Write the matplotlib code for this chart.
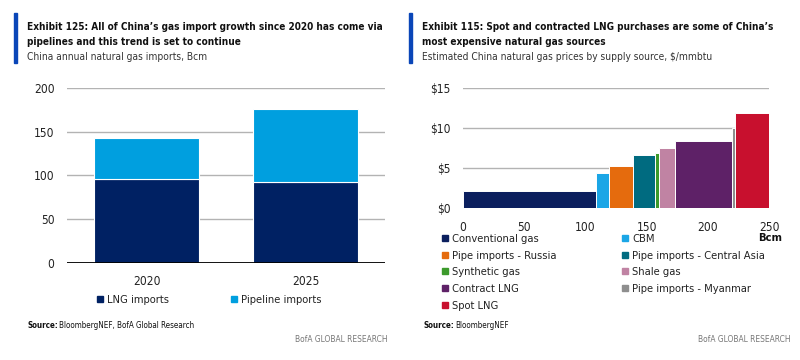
import numpy as np
import matplotlib.pyplot as plt
from matplotlib.patches import Rectangle
from matplotlib.lines import Line2D

plt.rcParams['font.family'] = ['DejaVu Sans']
plt.rcParams['font.stretch'] = 'condensed'

## Left chart data: China annual gas imports, Bcm
years = ['2020', '2025']
lng_imports = [95.5, 92]
pipeline_imports = [47, 84.5]

## Right chart data: supply curve, volume (Bcm) and price ($/mmbtu)
sources = ['Conventional gas', 'CBM', 'Pipe imports - Russia',
           'Pipe imports - Central Asia', 'Synthetic gas', 'Shale gas',
           'Contract LNG', 'Pipe imports - Myanmar', 'Spot LNG']
volumes = [109, 10, 20, 17.5, 3.5, 13.5, 46.5, 2.5, 27.5]
prices = [2.2, 4.4, 5.3, 6.7, 6.9, 7.6, 8.4, 10.0, 11.9]
colors = ['#0b1f5e', '#1ba6e6', '#e56b0d', '#006b80', '#3c9a2c',
          '#c083a3', '#5e2167', '#8e8e8e', '#c8102e']

navy = '#002163'
sky = '#009fdf'
accent = '#0a46b8'
grid_c = '#b3b3b3'
txt = '#222222'

W, H = 800, 360
fig = plt.figure(figsize=(8, 3.6), dpi=100)

def fx(x):
    return x / W

def fy(y):
    return 1 - y / H

## headers
def header(x0, lines, sub):
    fig.patches.append(Rectangle((fx(x0 - 13), fy(63)), fx(3), 50 / H,
                                 transform=fig.transFigure, color=accent))
    fig.text(fx(x0), fy(30), lines[0], fontsize=7.2, fontweight='bold',
             color='#111111', va='baseline')
    fig.text(fx(x0), fy(45), lines[1], fontsize=7.2, fontweight='bold',
             color='#111111', va='baseline')
    fig.text(fx(x0), fy(60), sub, fontsize=7.3, color='#333333', va='baseline')

header(27, ["Exhibit 125: All of China\u2019s gas import growth since 2020 has come via",
            "pipelines and this trend is set to continue"],
       "China annual natural gas imports, Bcm")
header(422, ["Exhibit 115: Spot and contracted LNG purchases are some of China\u2019s",
             "most expensive natural gas sources"],
       "Estimated China natural gas prices by supply source, $/mmbtu")

## left chart
ax1 = fig.add_axes([fx(67), fy(262.7), fx(385 - 67), (262.7 - 88.3) / H])
x = np.arange(len(years))
ax1.bar(x, lng_imports, width=0.66, color=navy, edgecolor='white',
        linewidth=0.8, zorder=3, label='LNG imports')
ax1.bar(x, pipeline_imports, bottom=lng_imports, width=0.66, color=sky,
        edgecolor='white', linewidth=0.8, zorder=3, label='Pipeline imports')
ax1.set_xlim(-0.5, 1.5)
ax1.set_ylim(0, 200)
ax1.set_yticks([0, 50, 100, 150, 200])
ax1.set_xticks(x)
ax1.set_xticklabels(years)
ax1.yaxis.grid(True, color=grid_c, linewidth=1)
ax1.axhline(0, color='black', linewidth=1.3, zorder=4)
for s in ax1.spines.values():
    s.set_visible(False)
ax1.tick_params(length=0, labelsize=8.6, colors=txt)
ax1.tick_params(axis='x', pad=9)
ax1.tick_params(axis='y', pad=9)

h1 = [Line2D([], [], marker='s', linestyle='', color=c, markersize=5)
      for c in [navy, sky]]
fig.legend(h1, ['LNG imports', 'Pipeline imports'], ncol=2, frameon=False,
           loc='upper left', bbox_to_anchor=(fx(96), fy(295)), borderpad=0,
           borderaxespad=0, fontsize=8, handlelength=0.7, handletextpad=0.3,
           columnspacing=5.5, labelcolor=txt)

## right chart
ax2 = fig.add_axes([fx(463), fy(208.3), fx(769 - 463), (208.3 - 88.3) / H])
lefts = np.concatenate([[0], np.cumsum(volumes)[:-1]])
for l, w, p, c, n in zip(lefts, volumes, prices, colors, sources):
    ax2.bar(l, p, width=w, align='edge', color=c, edgecolor='white',
            linewidth=0.7, zorder=3, label=n)
ax2.set_xlim(0, 250)
ax2.set_ylim(0, 15)
ax2.set_yticks([0, 5, 10, 15])
ax2.set_yticklabels(['$0', '$5', '$10', '$15'])
ax2.set_xticks([0, 50, 100, 150, 200, 250])
ax2.yaxis.grid(True, color=grid_c, linewidth=1)
for s in ax2.spines.values():
    s.set_visible(False)
ax2.tick_params(length=0, labelsize=8.6, colors=txt)
ax2.tick_params(axis='x', pad=9)
ax2.tick_params(axis='y', pad=9)
fig.text(fx(782), fy(241), 'Bcm', fontsize=8, fontweight='bold',
         color='#111111', ha='right', va='baseline')

order = [0, 2, 4, 6, 8, 1, 3, 5, 7]
h2 = [Line2D([], [], marker='s', linestyle='', color=colors[i], markersize=5)
      for i in order]
fig.legend(h2, [sources[i] for i in order], ncol=2, frameon=False,
           loc='upper left', bbox_to_anchor=(fx(441), fy(234)), borderpad=0,
           borderaxespad=0, fontsize=8, handlelength=0.7, handletextpad=0.3,
           columnspacing=5.8, labelspacing=0.6, labelcolor=txt)

## sources and branding
fig.canvas.draw()
r = fig.canvas.get_renderer()
for x0, rest in [(27, 'BloombergNEF, BofA Global Research'), (423, 'BloombergNEF')]:
    t = fig.text(fx(x0), fy(328), 'Source:', fontsize=5.8, fontweight='bold',
                 color='#111111', va='baseline')
    bb = t.get_window_extent(r)
    fig.text(fx(x0) + bb.width / W + 0.002, fy(328), rest, fontsize=5.8,
             color='#111111', va='baseline')
for x0 in [388, 791]:
    fig.text(fx(x0), fy(341.5), 'BofA GLOBAL RESEARCH', fontsize=6,
             color='#777777', ha='right', va='baseline')

fig.savefig('out.png', dpi=100)
